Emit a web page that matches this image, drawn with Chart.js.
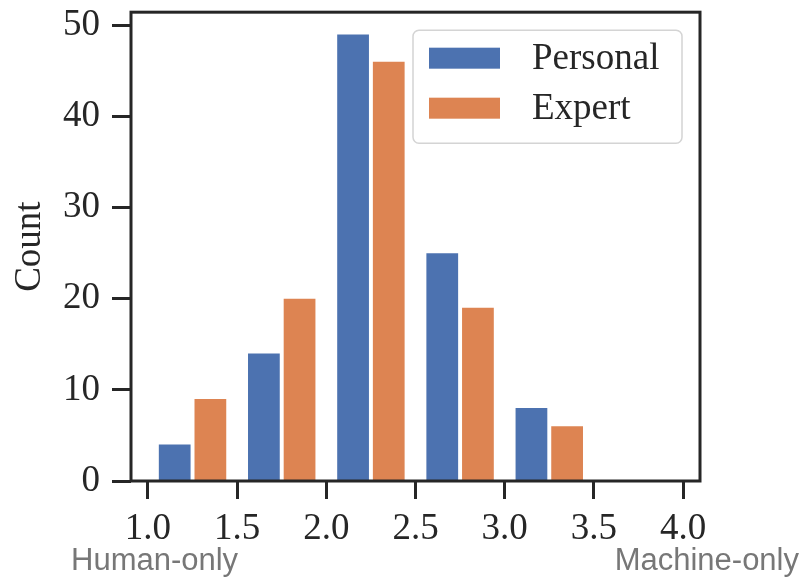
<!DOCTYPE html>
<html>
<head>
<meta charset="utf-8">
<script src="https://cdn.jsdelivr.net/npm/chart.js@4.4.1/dist/chart.umd.min.js"></script>
<style>
  html, body { margin: 0; padding: 0; background: #fff; }
  #c { display: block; }
</style>
</head>
<body>
<canvas id="c" width="802" height="577"></canvas>
<script>
// bin centres for each series (bins of 0.5 from 1.0 to 4.0, two bars per bin)
const personalX = [1.15, 1.65, 2.15, 2.65, 3.15, 3.65];
const expertX = [1.35, 1.85, 2.35, 2.85, 3.35, 3.85];
const personalCounts = [4, 14, 49, 25, 8, 0];
const expertCounts = [9, 20, 46, 19, 6, 0];
const seriesNames = ['Personal', 'Expert'];
const seriesColors = ['#4c72b0', '#dd8452'];
const leftNote = 'Human-only';
const rightNote = 'Machine-only';

const ink = '#262626';
const serif = "'Liberation Serif', serif";

function pts(xs, ys) {
  return xs.map(function(x, i) { return { x: x, y: ys[i] }; });
}

const framePlugin = {
  id: 'frame',
  afterDraw(chart) {
    const ctx = chart.ctx;
    const a = chart.chartArea;
    ctx.save();
    // axes frame
    ctx.strokeStyle = ink;
    ctx.lineWidth = 3;
    ctx.strokeRect(a.left, a.top, a.right - a.left, a.bottom - a.top);

    // legend box
    const bx = a.right - 287, by = a.top + 18, bw = 269, bh = 113;
    ctx.beginPath();
    ctx.roundRect(bx, by, bw, bh, 6);
    ctx.fillStyle = 'rgba(255,255,255,0.9)';
    ctx.fill();
    ctx.strokeStyle = '#d4d4d4';
    ctx.lineWidth = 1.5;
    ctx.stroke();
    ctx.font = '37px ' + serif;
    ctx.textBaseline = 'middle';
    ctx.textAlign = 'left';
    chart.data.datasets.forEach(function(ds, i) {
      const cy = by + 28 + i * 50;
      ctx.fillStyle = ds.backgroundColor;
      ctx.fillRect(bx + 16, cy - 10.5, 71, 21);
      ctx.fillStyle = ink;
      ctx.fillText(ds.label, bx + 119, cy + 1);
    });

    // end notes under the axis
    ctx.font = "31px 'Liberation Sans', Arial, sans-serif";
    ctx.fillStyle = '#777777';
    ctx.textBaseline = 'alphabetic';
    ctx.textAlign = 'left';
    ctx.fillText(leftNote, 71, 570);
    ctx.textAlign = 'right';
    ctx.fillText(rightNote, 799, 570);
    ctx.restore();
  }
};

new Chart(document.getElementById('c'), {
  type: 'bar',
  data: {
    datasets: [
      {
        label: seriesNames[0],
        data: pts(personalX, personalCounts),
        backgroundColor: seriesColors[0],
        borderWidth: 0,
      },
      {
        label: seriesNames[1],
        data: pts(expertX, expertCounts),
        backgroundColor: seriesColors[1],
        borderWidth: 0,
      },
    ],
  },
  options: {
    responsive: false,
    animation: false,
    events: [],
    grouped: false,
    barPercentage: 0.89,
    categoryPercentage: 1,
    layout: { padding: { top: 12, right: 102, bottom: 0, left: 0 } },
    plugins: {
      legend: { display: false },
      tooltip: { enabled: false },
    },
    scales: {
      x: {
        type: 'linear',
        offset: false,
        min: 0.905,
        max: 4.095,
        afterFit: function(s) { s.height = 96; },
        border: { display: false },
        grid: {
          offset: false,
          drawOnChartArea: false,
          drawTicks: true,
          tickLength: 18,
          tickWidth: 3,
          tickColor: ink,
        },
        ticks: {
          stepSize: 0.5,
          includeBounds: false,
          autoSkip: false,
          maxRotation: 0,
          padding: 19,
          color: ink,
          font: { family: serif, size: 37, lineHeight: 0.6 },
          callback: function(v) { return Number(v).toFixed(1); },
        },
      },
      y: {
        min: 0,
        max: 51.45,
        afterFit: function(s) { s.width = 131; },
        border: { display: false },
        grid: {
          drawOnChartArea: false,
          drawTicks: true,
          tickLength: 19,
          tickWidth: 3,
          tickColor: ink,
        },
        ticks: {
          stepSize: 10,
          includeBounds: false,
          padding: 12,
          color: ink,
          // tiny line height keeps the layout from reserving room above "50"
          font: { family: serif, size: 37, lineHeight: 0.01 },
        },
        title: {
          display: true,
          text: 'Count',
          color: ink,
          font: { family: serif, size: 37 },
          padding: { top: 8, bottom: 4 },
        },
      },
    },
  },
  plugins: [framePlugin],
});
</script>
</body>
</html>
